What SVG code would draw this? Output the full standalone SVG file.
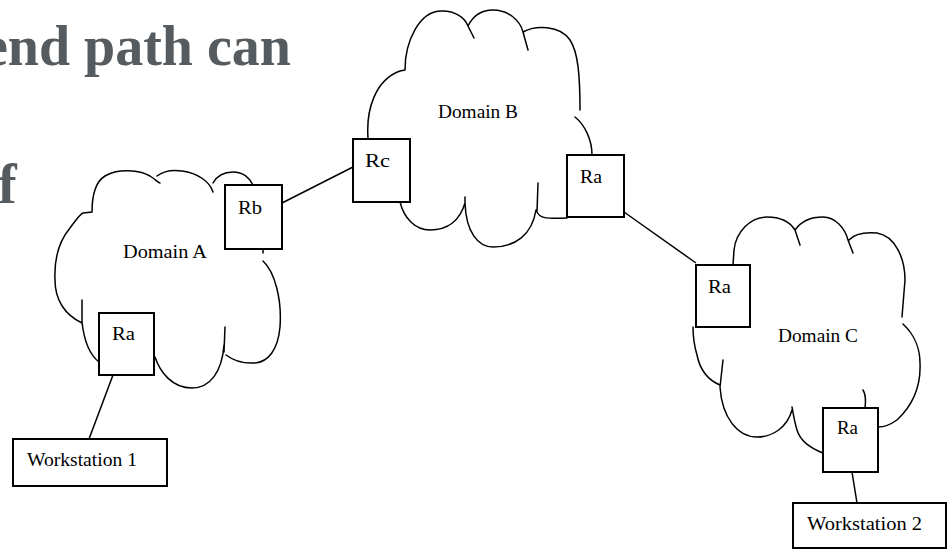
<svg xmlns="http://www.w3.org/2000/svg" width="951" height="549" viewBox="0 0 951 549">
<style>
.title{font-family:"Liberation Serif","Times New Roman",serif;font-weight:bold;font-size:56px;fill:#555b5f}
.lbl{font-family:"Liberation Serif","Times New Roman",serif;font-size:18px;fill:#000}
.box{fill:#fff;stroke:#000;stroke-width:2}
.cloud{fill:none;stroke:#000;stroke-width:1.5;stroke-linecap:round}
.conn{fill:none;stroke:#000;stroke-width:1.5}
</style>
<rect width="951" height="549" fill="#fff"/>
<text class="title" x="291" y="65" text-anchor="end">end path can</text>
<text class="title" x="-2" y="203">f</text>

<g id="domainA">
<path class="cloud" d="M83,213 L92,212 C92,195 95,182 105,176 C118,168 140,170 150,176 C156,180 159,183 160,183 M157,176 C165,170 175,170 182,171 C198,173 210,182 213,192 M213,183 C218,174 226,172 233,172 C243,172 250,178 253,185 M263,250 L263,253 M263,261 C275,272 282,300 280,327 C278,350 268,362 255,363 C240,364 230,358 226,355 M225,327 L224,352 M224,345 C222,372 210,388 192,388 C172,388 160,372 155,357 M99,362 C90,355 84,340 82,322 M82,300 L82,323 M82,323 C65,315 55,300 55,280 C54,258 60,240 70,228 C76,220 80,214 83,213"/>
<text class="lbl" x="123" y="258" textLength="84" lengthAdjust="spacingAndGlyphs">Domain A</text>
</g>

<g id="domainB">
<path class="cloud" d="M368,138 C366,110 375,80 400,71 L405,70 M405,70 C405,40 420,12 440,11 C455,10 465,18 468,26 L474,38 M468,26 C475,12 485,10 493,10 C508,10 520,20 523,32 L528,50 M523,32 C535,25 560,25 570,40 C578,52 580,75 580,110 M575,117 C585,125 592,140 592,155 M538,183 L537,212 C540,218 545,219 567,218 M536,210 C532,235 515,247 493,247 C478,247 466,232 465,203 M465,197 L465,205 M465,203 C460,220 448,230 430,230 C415,230 404,218 400,202"/>
<text class="lbl" x="438" y="118" textLength="80" lengthAdjust="spacingAndGlyphs">Domain B</text>
</g>

<g id="domainC">
<path class="cloud" d="M733,265 L734,250 C736,232 750,217 767,217 C780,217 790,222 795,230 L800,245 M795,230 C802,220 812,217 823,217 C835,217 845,228 848,240 L853,253 M849,240 C855,233 865,232 877,233 C895,236 905,258 905,280 L902,317 M903,324 C915,335 920,350 920,363 C921,385 913,405 897,420 C890,425 885,427 878,427 M863,390 C866,395 866,400 865,408 M823,453 C810,448 800,440 797,430 C794,420 793,412 792,407 M792,410 C787,428 772,437 757,437 C738,437 722,418 720,387 M723,360 L720,387 M720,385 C708,380 700,370 697,355 C694,345 693,335 693,327"/>
<text class="lbl" x="778" y="342" textLength="80" lengthAdjust="spacingAndGlyphs">Domain C</text>
</g>

<g id="connectors">
<line class="conn" x1="282" y1="203" x2="353" y2="167"/>
<line class="conn" x1="624" y1="212" x2="696" y2="263"/>
<line class="conn" x1="113" y1="375" x2="89" y2="439"/>
<line class="conn" x1="852" y1="472" x2="857" y2="503"/>
</g>

<g id="rb">
<rect class="box" x="225" y="185" width="57" height="64"/>
<text class="lbl" x="238" y="214" textLength="24" lengthAdjust="spacingAndGlyphs">Rb</text>
</g>
<g id="raA">
<rect class="box" x="99" y="313" width="55" height="62"/>
<text class="lbl" x="112" y="340" textLength="23" lengthAdjust="spacingAndGlyphs">Ra</text>
</g>
<g id="rc">
<rect class="box" x="353" y="139" width="57" height="63"/>
<text class="lbl" x="365" y="167" textLength="25" lengthAdjust="spacingAndGlyphs">Rc</text>
</g>
<g id="raB">
<rect class="box" x="567" y="155" width="57" height="62"/>
<text class="lbl" x="580" y="183" textLength="22" lengthAdjust="spacingAndGlyphs">Ra</text>
</g>
<g id="raC">
<rect class="box" x="696" y="265" width="54" height="62"/>
<text class="lbl" x="708" y="293" textLength="23" lengthAdjust="spacingAndGlyphs">Ra</text>
</g>
<g id="raC2">
<rect class="box" x="823" y="408" width="55" height="64"/>
<text class="lbl" x="837" y="434" textLength="21" lengthAdjust="spacingAndGlyphs">Ra</text>
</g>
<g id="ws1">
<rect class="box" x="13" y="439" width="154" height="47"/>
<text class="lbl" x="27" y="466" textLength="110" lengthAdjust="spacingAndGlyphs">Workstation 1</text>
</g>
<g id="ws2">
<rect class="box" x="793" y="503" width="153" height="45"/>
<text class="lbl" x="807" y="530" textLength="115" lengthAdjust="spacingAndGlyphs">Workstation 2</text>
</g>
</svg>
